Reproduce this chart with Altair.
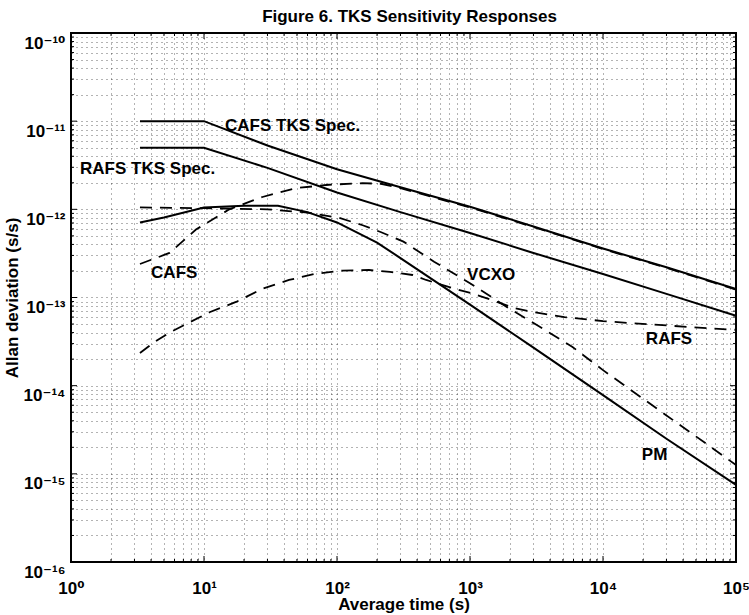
import json
import altair as alt
import pandas as pd

TITLE = "Figure 6. TKS Sensitivity Responses"
X_TITLE = "Average time (s)"
Y_TITLE = "Allan deviation (s/s)"

SPEC_TAU = [3.3, 10, 30, 100, 300, 1000, 3000, 10000, 30000, 100000]
CAFS_SPEC = [1e-11, 1e-11, 5.3e-12, 2.85e-12, 1.78e-12, 1.07e-12, 6.4e-13, 3.6e-13, 2.2e-13, 1.25e-13]
RAFS_SPEC = [5e-12, 5e-12, 2.95e-12, 1.55e-12, 9.3e-13, 5.4e-13, 3.2e-13, 1.85e-13, 1.1e-13, 6.2e-14]

PM_TAU = [3.3, 5, 10, 20, 36, 60, 100, 200, 300, 1000, 3000, 10000, 30000, 100000]
PM = [7.1e-13, 8.1e-13, 1.05e-12, 1.1e-12, 1.1e-12, 9.3e-13, 7.1e-13, 4.2e-13, 2.8e-13,
      8.3e-14, 2.7e-14, 7.8e-15, 2.5e-15, 7.5e-16]

CAFS_TAU = [3.3, 5.5, 8.7, 15.5, 27.5, 49, 87, 155, 214, 300, 1000, 3000, 10000, 30000, 100000]
CAFS = [2.4e-13, 3.2e-13, 5.9e-13, 1.0e-12, 1.38e-12, 1.74e-12, 1.9e-12, 1.98e-12, 1.95e-12,
        1.74e-12, 1.05e-12, 6.3e-13, 3.55e-13, 2.17e-13, 1.23e-13]

VCXO_TAU = [3.3, 10, 30, 60, 104, 156, 215, 316, 537, 1000, 2000, 3160, 5900, 10000, 30000, 100000]
VCXO = [1.05e-12, 1.03e-12, 1.0e-12, 9.2e-13, 8.0e-13, 6.6e-13, 5.5e-13, 4.3e-13, 2.55e-13,
        1.45e-13, 7.4e-14, 4.9e-14, 2.75e-14, 1.5e-14, 4.6e-15, 1.26e-15]

RAFS_TAU = [3.3, 4.2, 5.5, 11, 17.4, 27.5, 43.6, 69, 110, 174, 250, 370, 468, 724, 1020, 1480,
            2140, 2880, 5130, 10000, 17000, 74000, 100000]
RAFS = [2.35e-14, 3.1e-14, 4.0e-14, 6.8e-14, 8.9e-14, 1.26e-13, 1.58e-13, 1.86e-13, 2.02e-13,
        2.05e-13, 1.95e-13, 1.8e-13, 1.58e-13, 1.29e-13, 1.12e-13, 9.3e-14, 7.6e-14, 6.9e-14,
        6.0e-14, 5.4e-14, 5.1e-14, 4.4e-14, 4.3e-14]

LABELS = ["CAFS TKS Spec.", "RAFS TKS Spec.", "CAFS", "VCXO", "RAFS", "PM"]
LABEL_TAU = [14.4, 1.17, 4.0, 950, 21000, 19600]
LABEL_ADEV = [8.9e-12, 2.9e-12, 1.9e-13, 1.8e-13, 3.4e-14, 1.65e-15]

X_TICKS = [m * 10 ** e for e in range(0, 5) for m in range(1, 10)] + [1e5]
Y_TICKS = [m * 10.0 ** e for e in range(-16, -10) for m in range(1, 10)] + [1e-10]
X_TICK_LABELS = ["10⁰", "10¹", "10²", "10³", "10⁴", "10⁵"]
Y_TICK_LABELS = ["10⁻¹⁶", "10⁻¹⁵", "10⁻¹⁴", "10⁻¹³", "10⁻¹²", "10⁻¹¹", "10⁻¹⁰"]

W, H = 665, 529
FONT = "Liberation Sans, DejaVu Sans, sans-serif"


def long(series, taus, vals):
    return pd.DataFrame({"tau": taus, "adev": vals, "series": series, "idx": range(len(taus))})


solid_df = pd.concat([long("CAFS TKS Spec", SPEC_TAU, CAFS_SPEC),
                      long("RAFS TKS Spec", SPEC_TAU, RAFS_SPEC),
                      long("PM", PM_TAU, PM)])
dashed_df = pd.concat([long("CAFS", CAFS_TAU, CAFS),
                       long("VCXO", VCXO_TAU, VCXO),
                       long("RAFS", RAFS_TAU, RAFS)])
label_df = pd.DataFrame({"tau": LABEL_TAU, "adev": LABEL_ADEV, "text": LABELS})

is_pow = "abs(log(datum.value)/LN10 - round(log(datum.value)/LN10)) < 0.001"
x_expr = f"{is_pow} ? {json.dumps(X_TICK_LABELS, ensure_ascii=False)}[round(log(datum.value)/LN10)] : ''"
y_expr = f"{is_pow} ? {json.dumps(Y_TICK_LABELS, ensure_ascii=False)}[round(log(datum.value)/LN10) + 16] : ''"

xscale = alt.Scale(type="log", domain=[1, 1e5], nice=False)
yscale = alt.Scale(type="log", domain=[1e-16, 1e-10], nice=False)

grid_common = dict(grid=True, gridColor="#000", gridDash=[1, 4], gridOpacity=0.6, gridWidth=1,
                   ticks=False, domain=False, labelOverlap=False, labelFlush=False,
                   labelFont=FONT, labelFontSize=17, labelFontWeight="bold", labelColor="#000",
                   titleFont=FONT, titleFontSize=17, titleFontWeight="bold", titleColor="#000")

xaxis = alt.Axis(values=X_TICKS, labelExpr=x_expr, title=X_TITLE, labelBaseline="top",
                 labelPadding=18, titlePadding=0, **grid_common)
yaxis = alt.Axis(values=Y_TICKS, labelExpr=y_expr, title=Y_TITLE, labelAlign="right",
                 labelBaseline="middle", labelOffset=10, labelPadding=6, titlePadding=2,
                 **grid_common)

X = alt.X("tau:Q", scale=xscale, axis=xaxis)
Y = alt.Y("adev:Q", scale=yscale, axis=yaxis)

dashed = alt.Chart(dashed_df).mark_line(color="#000", strokeWidth=1.8, strokeDash=[12, 8]).encode(
    x=X, y=Y, detail="series:N", order="idx:Q")
solid = alt.Chart(solid_df).mark_line(color="#000", strokeWidth=2).encode(
    x=alt.X("tau:Q", scale=xscale), y=alt.Y("adev:Q", scale=yscale),
    detail="series:N", order="idx:Q")
labels = alt.Chart(label_df).mark_text(font=FONT, fontSize=17, fontWeight="bold", color="#000",
                                       align="left", baseline="middle").encode(
    x=alt.X("tau:Q", scale=xscale), y=alt.Y("adev:Q", scale=yscale), text="text:N")

# inside tick marks (MATLAB style)
xt = pd.DataFrame({"tau": X_TICKS})
yt = pd.DataFrame({"adev": Y_TICKS})
xmaj = is_pow.replace("datum.value", "datum.tau")
ymaj = is_pow.replace("datum.value", "datum.adev")


def xticks(maj, y0, y1):
    flt = xmaj if maj else f"!({xmaj})"
    return alt.Chart(xt).transform_filter(flt).mark_rule(color="#000", strokeWidth=1).encode(
        x=alt.X("tau:Q", scale=xscale), y=alt.value(y0), y2=alt.value(y1))


def yticks(maj, x0, x1):
    flt = ymaj if maj else f"!({ymaj})"
    return alt.Chart(yt).transform_filter(flt).mark_rule(color="#000", strokeWidth=1).encode(
        y=alt.Y("adev:Q", scale=yscale), x=alt.value(x0), x2=alt.value(x1))


ticks = [xticks(True, H, H - 6), xticks(False, H, H - 3), xticks(True, 0, 6), xticks(False, 0, 3),
         yticks(True, 0, 6), yticks(False, 0, 3), yticks(True, W, W - 6), yticks(False, W, W - 3)]

chart = alt.layer(dashed, solid, labels, *ticks).properties(
    width=W, height=H,
    title=alt.TitleParams(TITLE, font=FONT, fontSize=17, fontWeight="bold", color="#000",
                          anchor="middle", offset=7, dx=6),
    autosize=alt.AutoSizeParams(type="none"),
    padding={"left": 71, "top": 33, "right": 13, "bottom": 53},
    background="white",
).configure_view(stroke="#000", strokeWidth=2)

chart.save("out.html", embed_options={"renderer": "svg", "actions": False})
